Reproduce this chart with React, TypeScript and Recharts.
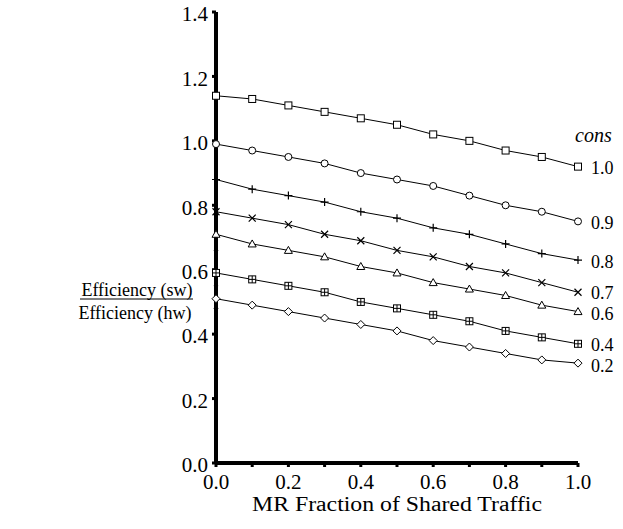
import { ComposedChart, Line, XAxis, YAxis, Scatter, Label, LabelList } from "recharts";

const mrFraction = [0, 0.1, 0.2, 0.3, 0.4, 0.5, 0.6, 0.7, 0.8, 0.9, 1.0];
const xTicks = [0, 0.1, 0.2, 0.3, 0.4, 0.5, 0.6, 0.7, 0.8, 0.9, 1.0];
const yTicks = [0, 0.2, 0.4, 0.6, 0.8, 1.0, 1.2, 1.4];

const cons10 = [1.14, 1.13, 1.11, 1.09, 1.07, 1.05, 1.02, 1.0, 0.97, 0.95, 0.92];
const cons09 = [0.99, 0.97, 0.95, 0.93, 0.9, 0.88, 0.86, 0.83, 0.8, 0.78, 0.75];
const cons08 = [0.88, 0.85, 0.83, 0.81, 0.78, 0.76, 0.73, 0.71, 0.68, 0.65, 0.63];
const cons07 = [0.78, 0.76, 0.74, 0.71, 0.69, 0.66, 0.64, 0.61, 0.59, 0.56, 0.53];
const cons06 = [0.71, 0.68, 0.66, 0.64, 0.61, 0.59, 0.56, 0.54, 0.52, 0.49, 0.47];
const cons04 = [0.59, 0.57, 0.55, 0.53, 0.5, 0.48, 0.46, 0.44, 0.41, 0.39, 0.37];
const cons02 = [0.51, 0.49, 0.47, 0.45, 0.43, 0.41, 0.38, 0.36, 0.34, 0.32, 0.31];

// stray marks sitting on the y axis at x = 0
const axisMarks = [
  { x: 0, y: 0.66 },
  { x: 0, y: 0.55 },
  { x: 0, y: 0.48 },
];

const series = [
  { key: "c10", label: "1.0", values: cons10, shape: "square", nudge: 0 },
  { key: "c09", label: "0.9", values: cons09, shape: "circle", nudge: 0 },
  { key: "c08", label: "0.8", values: cons08, shape: "plus", nudge: 0 },
  { key: "c07", label: "0.7", values: cons07, shape: "cross", nudge: -1 },
  { key: "c06", label: "0.6", values: cons06, shape: "triangle", nudge: 1 },
  { key: "c04", label: "0.4", values: cons04, shape: "squarePlus", nudge: -0.5 },
  { key: "c02", label: "0.2", values: cons02, shape: "diamond", nudge: 1 },
];

const data = mrFraction.map((x, i) => {
  const row: Record<string, number> = { x };
  series.forEach((s) => (row[s.key] = s.values[i]));
  return row;
});

const FONT = "'Liberation Serif', 'Times New Roman', serif";

function Marker({ cx, cy, shape }: { cx: number; cy: number; shape: string }) {
  if (cx == null || cy == null) return null;
  const r = 3.5;
  const common = { fill: "#fff", stroke: "#000", strokeWidth: 1 };
  switch (shape) {
    case "square":
      return <rect x={cx - r} y={cy - r} width={2 * r} height={2 * r} {...common} />;
    case "circle":
      return <circle cx={cx} cy={cy} r={r} {...common} />;
    case "plus":
      return (
        <path d={`M${cx - 4},${cy}H${cx + 4}M${cx},${cy - 4}V${cy + 4}`} stroke="#000" strokeWidth={1.2} />
      );
    case "cross":
      return (
        <path
          d={`M${cx - 3.5},${cy - 3.5}L${cx + 3.5},${cy + 3.5}M${cx - 3.5},${cy + 3.5}L${cx + 3.5},${cy - 3.5}`}
          stroke="#000"
          strokeWidth={1.2}
        />
      );
    case "triangle":
      return <path d={`M${cx},${cy - 4}L${cx + 4},${cy + 3}L${cx - 4},${cy + 3}Z`} {...common} />;
    case "squarePlus":
      return (
        <g>
          <rect x={cx - r} y={cy - r} width={2 * r} height={2 * r} {...common} />
          <path d={`M${cx - r},${cy}H${cx + r}M${cx},${cy - r}V${cy + r}`} stroke="#000" strokeWidth={1} />
        </g>
      );
    case "diamond":
      return <path d={`M${cx},${cy - 4}L${cx + 4},${cy}L${cx},${cy + 4}L${cx - 4},${cy}Z`} {...common} />;
    default:
      return <circle cx={cx} cy={cy} r={2} fill="#000" />;
  }
}

const XTick = ({ x, y, payload }: any) => {
  const v = payload.value;
  if (Math.round(v * 10) % 2 !== 0) return null;
  return (
    <text x={x} y={y} dy="0.71em" textAnchor="middle" fontFamily={FONT} fontSize={21} fill="#000">
      {v.toFixed(1)}
    </text>
  );
};

const YTick = ({ x, y, payload }: any) => (
  <text x={x} y={y + 2} dy="0.35em" textAnchor="end" fontFamily={FONT} fontSize={21} fill="#000">
    {payload.value.toFixed(1)}
  </text>
);

const YTitle = () => (
  <g fontFamily={FONT} fontSize={18} fill="#000">
    <text x={137} y={290} textAnchor="middle" dy="0.35em">
      Efficiency (sw)
    </text>
    <line x1={80} x2={193} y1={299} y2={299} stroke="#000" strokeWidth={1} />
    <text x={135} y={313} textAnchor="middle" dy="0.35em">
      Efficiency (hw)
    </text>
  </g>
);

const XTitle = ({ viewBox }: any) => {
  const cx = viewBox.x + viewBox.width / 2;
  return (
    <text
      x={cx}
      y={504}
      dy="0.35em"
      textAnchor="middle"
      fontFamily={FONT}
      fontSize={20}
      fill="#000"
      textLength={290}
      lengthAdjust="spacingAndGlyphs"
    >
      MR Fraction of Shared Traffic
    </text>
  );
};

export default function App() {
  return (
    <div style={{ position: "absolute", left: 0, top: 0, background: "#fff" }}>
      <ComposedChart width={623} height={529} data={data} margin={{ top: 12, right: 45, left: 156, bottom: 16 }}>
        <XAxis
          dataKey="x"
          type="number"
          domain={[0, 1]}
          ticks={xTicks}
          interval={0}
          height={50}
          axisLine={{ stroke: "#000", strokeWidth: 4 }}
          tickLine={{ stroke: "#000", strokeWidth: 3 }}
          tickSize={4}
          tickMargin={7}
          tick={<XTick />}
        >
          <Label content={<XTitle />} />
        </XAxis>
        <YAxis
          type="number"
          domain={[0, 1.4]}
          ticks={yTicks}
          interval={0}
          width={60}
          axisLine={{ stroke: "#000", strokeWidth: 4 }}
          tickLine={{ stroke: "#000", strokeWidth: 3 }}
          tickSize={4}
          tickMargin={4}
          tick={<YTick />}
        >
          <Label content={<YTitle />} />
        </YAxis>
        <Scatter
          data={axisMarks}
          dataKey="y"
          isAnimationActive={false}
          shape={(p: any) => <circle cx={p.cx} cy={p.cy} r={2.2} fill="#000" />}
        />
        {series.map((s, si) => (
          <Line
            key={s.key}
            dataKey={s.key}
            type="linear"
            stroke="#000"
            strokeWidth={1}
            isAnimationActive={false}
            dot={(p: any) => <Marker key={`${s.key}-${p.index}`} cx={p.cx} cy={p.cy} shape={s.shape} />}
            activeDot={false}
          >
            <LabelList
              dataKey={s.key}
              content={(p: any) =>
                p.index === mrFraction.length - 1 ? (
                  <g key={`lab-${s.key}`} fontFamily={FONT} fill="#000">
                    {si === 0 && (
                      <text x={p.x - 3} y={p.y - 32} dy="0.35em" fontSize={20} fontStyle="italic">
                        cons
                      </text>
                    )}
                    <text x={p.x + 13} y={p.y + 1.5 + s.nudge} dy="0.35em" fontSize={18}>
                      {s.label}
                    </text>
                  </g>
                ) : null
              }
            />
          </Line>
        ))}
      </ComposedChart>
    </div>
  );
}
